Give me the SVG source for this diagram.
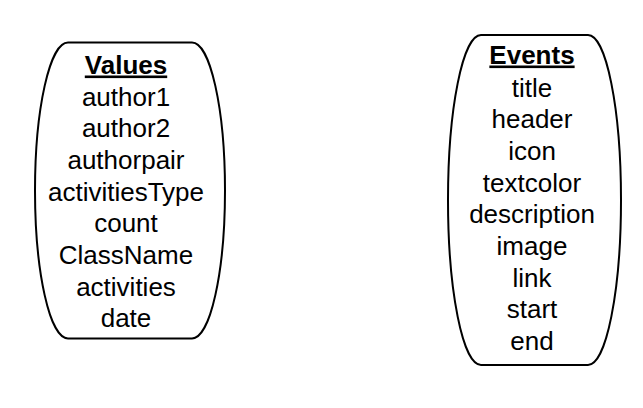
<svg xmlns="http://www.w3.org/2000/svg" width="643" height="408" viewBox="0 0 643 408">
  <style>
    .shape { fill: #ffffff; stroke: #000000; stroke-width: 2; }
    .label { font-family: "Liberation Sans", Arial, sans-serif; font-size: 26px; fill: #000000; text-anchor: middle; }
    .head { font-weight: bold; text-decoration: underline; }
  </style>
  <rect width="643" height="408" fill="#ffffff"/>

  <!-- Values: flat top and bottom, elliptical bulging sides -->
  <g id="values">
    <path class="shape" d="M 68 42.5 L 192 42.5 A 33 148 0 0 1 192 338.5 L 68 338.5 A 33 148 0 0 1 68 42.5 Z"/>
    <text class="label head" x="126" y="73.5">Values</text>
    <text class="label" x="126" y="105.5">author1</text>
    <text class="label" x="126" y="137">author2</text>
    <text class="label" x="126" y="168.5">authorpair</text>
    <text class="label" x="126" y="200.5">activitiesType</text>
    <text class="label" x="126" y="232">count</text>
    <text class="label" x="126" y="264">ClassName</text>
    <text class="label" x="126" y="295.5">activities</text>
    <text class="label" x="126" y="327">date</text>
  </g>

  <!-- Events -->
  <g id="events">
    <path class="shape" d="M 481 35 L 588 35 A 33 165 0 0 1 588 365 L 481 365 A 33 165 0 0 1 481 35 Z"/>
    <text class="label head" x="532" y="63.5">Events</text>
    <text class="label" x="532" y="96.5">title</text>
    <text class="label" x="532" y="128">header</text>
    <text class="label" x="532" y="160">icon</text>
    <text class="label" x="532" y="191.5">textcolor</text>
    <text class="label" x="532" y="223">description</text>
    <text class="label" x="532" y="255">image</text>
    <text class="label" x="532" y="286.5">link</text>
    <text class="label" x="532" y="318">start</text>
    <text class="label" x="532" y="350">end</text>
  </g>

  <g id="connectors"></g>
</svg>
